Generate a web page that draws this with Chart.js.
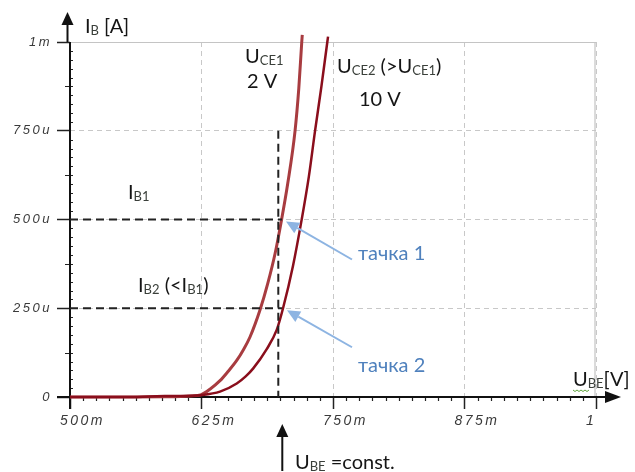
<!DOCTYPE html>
<html><head><meta charset="utf-8">
<script src="https://cdn.jsdelivr.net/npm/chart.js@4/dist/chart.umd.min.js"></script>
<style>html,body{margin:0;padding:0;background:#fff}</style>
</head><body>
<canvas id="c" width="635" height="472"></canvas>
<script>
// ---- data (U_BE in V, I_B in µA) ----
const xTickValues = [0.5, 0.625, 0.75, 0.875, 1];
const xTickLabels = ['500m', '625m', '750m', '875m', '1'];
const yTickValues = [0, 250, 500, 750, 1000];
const yTickLabels = ['0', '250u', '500u', '750u', '1m'];

const ubeCE1 = [0.50, 0.56, 0.59, 0.605, 0.615, 0.6242, 0.633, 0.6426, 0.65, 0.6585, 0.665, 0.6711, 0.6806, 0.688, 0.695, 0.7012, 0.707, 0.7139, 0.7175, 0.7203, 0.7208];
const ibCE1  = [0, 0, 0.5, 1.5, 3, 6, 22, 46, 71, 103, 134, 169, 245, 320, 405, 501, 602, 749, 870, 1000, 1020];

const ubeCE2 = [0.50, 0.56, 0.575, 0.59, 0.605, 0.615, 0.6242, 0.6426, 0.6585, 0.667, 0.674, 0.687, 0.6965, 0.7025, 0.712, 0.7203, 0.727, 0.7329, 0.739, 0.7446, 0.7453];
const ibCE2  = [0, 0, 1.5, 2.5, 3, 3.5, 5, 15, 38, 58, 80, 135, 189, 250, 370, 501, 620, 749, 875, 1000, 1015];

const seriesNames = ['UCE1 2 V', 'UCE2 10 V'];
const uBEconst = 0.698;   // operating U_BE
const iB1 = 500, iB2 = 250, vLineTop = 750;
const ubePoint1 = 0.7015, ubePoint2 = 0.7015;

const FONT = "Lato, 'Liberation Sans', sans-serif";
const TICKFONT = "'Liberation Sans', Arial, sans-serif";

function rich(ctx, x, y, parts, size, color, subColor) {
  ctx.save();
  ctx.textBaseline = 'alphabetic';
  ctx.textAlign = 'left';
  for (const p of parts) {
    const sub = p.startsWith('_');
    const t = sub ? p.slice(1) : p;
    const fs = sub ? Math.round(size * 0.66) : size;
    ctx.font = fs + 'px ' + FONT;
    ctx.fillStyle = sub ? subColor : color;
    ctx.fillText(t, x, sub ? y + 1.5 : y);
    x += ctx.measureText(t).width;
  }
  ctx.restore();
}
function arrow(ctx, x0, y0, x1, y1, color, lw, hl, hw) {
  const a = Math.atan2(y1 - y0, x1 - x0);
  const bx = x1 - hl * Math.cos(a), by = y1 - hl * Math.sin(a);
  ctx.save();
  ctx.strokeStyle = color; ctx.fillStyle = color; ctx.lineWidth = lw; ctx.setLineDash([]);
  ctx.beginPath(); ctx.moveTo(x0, y0); ctx.lineTo(bx, by); ctx.stroke();
  ctx.beginPath();
  ctx.moveTo(x1, y1);
  ctx.lineTo(bx + hw * Math.sin(a), by - hw * Math.cos(a));
  ctx.lineTo(bx - hw * Math.sin(a), by + hw * Math.cos(a));
  ctx.closePath(); ctx.fill();
  ctx.restore();
}

const decor = {
  id: 'decor',
  beforeDraw(chart) {
    chart.ctx.letterSpacing = '2.5px';
  },
  beforeDatasetsDraw(chart) {
    const ctx = chart.ctx;
    ctx.letterSpacing = '0px';
    const xs = chart.scales.x, ys = chart.scales.y, a = chart.chartArea;
    ctx.save();
    // solid frame top/right
    ctx.strokeStyle = '#c4c4c4'; ctx.lineWidth = 1.2; ctx.setLineDash([]);
    ctx.beginPath();
    ctx.moveTo(a.left, a.top + 0.5); ctx.lineTo(a.right, a.top + 0.5);
    ctx.moveTo(a.right - 1, a.top); ctx.lineTo(a.right - 1, a.bottom);
    ctx.stroke();
    // minor ticks
    ctx.strokeStyle = '#222'; ctx.lineWidth = 1.2;
    ctx.beginPath();
    for (let k = 0; k <= 40; k++) {
      const v = 0.5 + k * 0.0125;
      if (k % 10 === 0) continue;
      const px = Math.round(xs.getPixelForValue(v)) + 0.5;
      ctx.moveTo(px, a.bottom); ctx.lineTo(px, a.bottom + 4);
    }
    for (let k = 0; k <= 40; k++) {
      const v = k * 25;
      if (k % 10 === 0) continue;
      const py = Math.round(ys.getPixelForValue(v)) + 0.5;
      if (k % 5 === 0) { ctx.moveTo(a.left - 5, py); ctx.lineTo(a.left + 3, py); }
      else { ctx.moveTo(a.left, py); ctx.lineTo(a.left + 3, py); }
    }
    ctx.stroke();
    // axes
    ctx.strokeStyle = '#111'; ctx.fillStyle = '#111'; ctx.lineWidth = 2;
    ctx.beginPath();
    ctx.moveTo(a.left - 13, a.bottom); ctx.lineTo(a.right + 12, a.bottom);
    ctx.moveTo(a.left, a.bottom + 12); ctx.lineTo(a.left, a.top);
    ctx.stroke();
    ctx.restore();
    arrow(ctx, a.left - 13, a.bottom, a.right + 25, a.bottom, '#111', 2, 16, 6);
    arrow(ctx, a.left - 2.5, a.top, a.left - 2.5, a.top - 30, '#111', 2, 13, 6);
  },
  afterDatasetsDraw(chart) {
    const ctx = chart.ctx;
    const xs = chart.scales.x, ys = chart.scales.y, a = chart.chartArea;
    const xc = xs.getPixelForValue(uBEconst);
    ctx.save();
    ctx.strokeStyle = '#222'; ctx.lineWidth = 2; ctx.setLineDash([8, 5]);
    ctx.beginPath();
    ctx.moveTo(a.left, ys.getPixelForValue(iB1)); ctx.lineTo(xs.getPixelForValue(ubePoint1), ys.getPixelForValue(iB1));
    ctx.moveTo(a.left, ys.getPixelForValue(iB2)); ctx.lineTo(xs.getPixelForValue(ubePoint2), ys.getPixelForValue(iB2));
    ctx.moveTo(xc, ys.getPixelForValue(vLineTop)); ctx.lineTo(xc, a.bottom);
    ctx.stroke();
    ctx.restore();

    // blue arrows to the operating points
    const blue = '#8db4e2';
    const t1x = xs.getPixelForValue(ubePoint1) + 4, t1y = ys.getPixelForValue(iB1) + 2;
    const t2x = xs.getPixelForValue(ubePoint2) + 5, t2y = ys.getPixelForValue(iB2) + 2;
    arrow(ctx, t1x + 66, t1y + 38, t1x, t1y, blue, 2, 13, 6);
    arrow(ctx, t2x + 65, t2y + 37, t2x, t2y, blue, 2, 13, 6);

    // black arrow below axis
    arrow(ctx, xc + 4, 471, xc + 4, 424, '#111', 2, 13, 6);

    const txt = '#151515', sub = '#3a3f3a';
    rich(ctx, 85, 33, ['I', '_B', ' [A]'], 20, txt, sub);
    rich(ctx, 245, 63, ['U', '_CE1'], 20, txt, sub);
    rich(ctx, 247, 88, ['2 V'], 20, txt, sub);
    rich(ctx, 337, 73, ['U', '_CE2', ' (>U', '_CE1', ')'], 20, txt, sub);
    rich(ctx, 359, 106, ['10 V'], 20, txt, sub);
    rich(ctx, 128, 199, ['I', '_B1'], 20, txt, sub);
    rich(ctx, 138, 292, ['I', '_B2', ' (<I', '_B1', ')'], 20, txt, sub);
    rich(ctx, 573, 386, ['U', '_BE', '[V]'], 20, txt, sub);
    rich(ctx, 295, 469, ['U', '_BE', ' =const.'], 20, txt, sub);
    rich(ctx, 358, 260, ['тачка 1'], 20, '#4f81bd', '#4f81bd');
    rich(ctx, 358, 372, ['тачка 2'], 20, '#4f81bd', '#4f81bd');
    // spell-check squiggle under "BE"
    ctx.save();
    ctx.strokeStyle = '#5ea33c'; ctx.lineWidth = 1;
    ctx.beginPath();
    for (let i = 0; i <= 8; i++) { const x = 573 + i * 2; const y = 390 + (i % 2 ? 1.5 : 0); i ? ctx.lineTo(x, y) : ctx.moveTo(x, y); }
    ctx.stroke();
    ctx.restore();
  }
};

const pts = (xs, ys) => xs.map((x, i) => ({ x, y: ys[i] }));

new Chart(document.getElementById('c'), {
  type: 'line',
  data: {
    datasets: [
      { label: seriesNames[1], data: pts(ubeCE2, ibCE2), borderColor: '#8a0e1c', borderWidth: 2.5,
        pointRadius: 0, cubicInterpolationMode: 'monotone', clip: false },
      { label: seriesNames[0], data: pts(ubeCE1, ibCE1), borderColor: '#a83c40', borderWidth: 3,
        pointRadius: 0, cubicInterpolationMode: 'monotone', clip: false }
    ]
  },
  options: {
    responsive: false,
    devicePixelRatio: 1,
    animation: false,
    events: [],
    layout: { padding: { left: 0, top: 42, right: 39, bottom: 0 } },
    plugins: { legend: { display: false }, tooltip: { enabled: false } },
    scales: {
      x: {
        type: 'linear', min: 0.5, max: 1,
        afterBuildTicks: s => { s.ticks = xTickValues.map(v => ({ value: v })); },
        afterFit: s => { s.height = 75; },
        ticks: {
          callback: (v) => xTickLabels[xTickValues.findIndex(t => Math.abs(t - v) < 1e-9)],
          align: 'start', labelOffset: -10, padding: 4, maxRotation: 0, autoSkip: false,
          color: '#3a3a3a', font: { family: TICKFONT, size: 14, style: 'italic' }
        },
        grid: { color: '#c8c8c8', lineWidth: 1, drawTicks: true, tickLength: 12, tickColor: '#222', tickWidth: 1.5, tickBorderDash: [] },
        border: { display: false, dash: [5, 4] }
      },
      y: {
        type: 'linear', min: 0, max: 1000,
        afterBuildTicks: s => { s.ticks = yTickValues.map(v => ({ value: v })); },
        afterFit: s => { s.width = 70; },
        ticks: {
          callback: (v) => yTickLabels[yTickValues.findIndex(t => Math.abs(t - v) < 1e-9)],
          padding: 5, autoSkip: false,
          color: '#3a3a3a', font: { family: TICKFONT, size: 13, style: 'italic' }
        },
        grid: { color: '#c8c8c8', lineWidth: 1, drawTicks: true, tickLength: 13, tickColor: '#222', tickWidth: 1.5, tickBorderDash: [] },
        border: { display: false, dash: [5, 4] }
      }
    }
  },
  plugins: [decor]
});
</script>
</body></html>
